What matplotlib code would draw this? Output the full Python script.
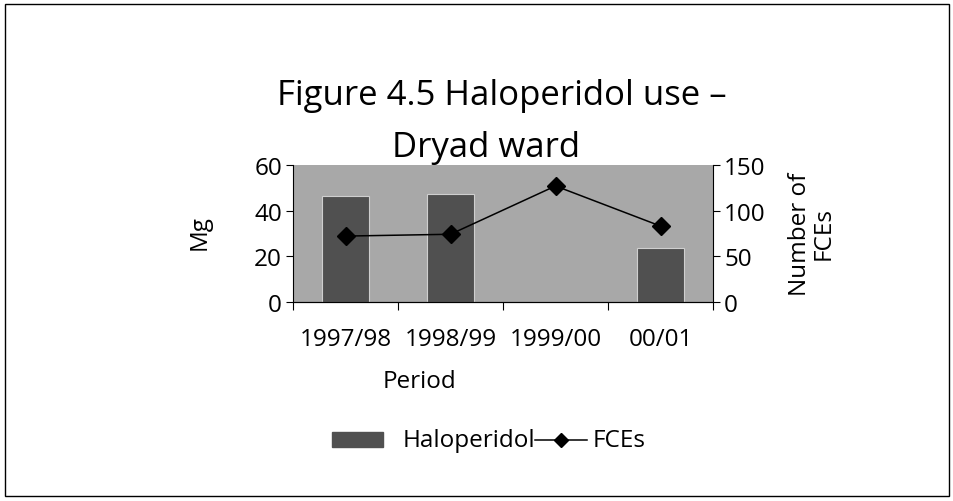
import matplotlib
matplotlib.use("Agg")
import matplotlib.pyplot as plt
from matplotlib.lines import Line2D
from matplotlib.patches import Rectangle
import numpy as np

periods = ["1997/98", "1998/99", "1999/00", "00/01"]
haloperidol_mg = [46.5, 47.3, 0, 23.7]
fces = [72, 74, 127, 83]
series_names = ["Haloperidol", "FCEs"]

plt.rcParams['font.family'] = ['Open Sans', 'DejaVu Sans']
FS = 17.5
BAR_COLOR = '#505050'

fig = plt.figure(figsize=(9.54, 5.02), dpi=100)
W, H = 954, 502
def fx(px): return px / W
def fy(py): return 1 - py / H

fig.patches.append(Rectangle((fx(5), fy(497)), 944/W, 492/H, transform=fig.transFigure,
                             fill=False, edgecolor='black', linewidth=1))

ax = fig.add_axes([fx(293), fy(302.7), 420/W, 136.7/H])
x = np.arange(len(periods))
ax.set_facecolor('#a8a8a8')
ax.bar(x, haloperidol_mg, width=0.44, color=BAR_COLOR, edgecolor='#cfcfcf', linewidth=0.8, zorder=2)
ax.set_xlim(-0.5, len(periods) - 0.5)
ax.set_ylim(0, 60)
ax.set_yticks([0, 20, 40, 60])
ax.set_xticks(np.arange(-0.5, len(periods), 1.0))
ax.set_xticklabels([])
ax.set_xticks(x, minor=True)
ax.set_xticklabels(periods, minor=True, fontsize=FS)
ax.tick_params(axis='x', which='minor', length=0, pad=18)
ax.tick_params(axis='x', which='major', length=6, direction='out')
ax.tick_params(axis='y', labelsize=FS, length=5, pad=3)
for s in ['top', 'right']:
    ax.spines[s].set_visible(False)

ax2 = ax.twinx()
ax2.plot(x, fces, color='black', marker='D', markersize=9, linewidth=1.1, zorder=3)
ax2.set_ylim(0, 150)
ax2.set_yticks([0, 50, 100, 150])
ax2.tick_params(axis='y', labelsize=FS, length=5, pad=3)
for s in ['top', 'left']:
    ax2.spines[s].set_visible(False)

fig.text(fx(200), fy(233), "Mg", rotation=90, ha='center', va='center', fontsize=FS)
fig.text(fx(812), fy(234), "Number of\nFCEs", rotation=90, ha='center', va='center',
         fontsize=FS, linespacing=1.0, multialignment='center')
fig.text(fx(420), fy(388), "Period", ha='center', va='baseline', fontsize=FS)

fig.text(fx(502), fy(105), "Figure 4.5 Haloperidol use –", ha='center', va='baseline', fontsize=25)
fig.text(fx(486), fy(157), "Dryad ward", ha='center', va='baseline', fontsize=25)

# legend (drawn manually to match spacing)
fig.patches.append(Rectangle((fx(332), fy(448)), 51/W, 15/H, transform=fig.transFigure,
                             facecolor=BAR_COLOR, edgecolor=BAR_COLOR))
fig.text(fx(403), fy(441), series_names[0], ha='left', va='center', fontsize=FS)
fig.add_artist(Line2D([fx(535), fx(587)], [fy(441), fy(441)], transform=fig.transFigure,
                      color='black', linewidth=1.1))
fig.add_artist(Line2D([fx(561)], [fy(441)], transform=fig.transFigure,
                      color='black', marker='D', markersize=7, linestyle='none'))
fig.text(fx(593), fy(441), series_names[1], ha='left', va='center', fontsize=FS)

fig.savefig("out.png", dpi=100)
